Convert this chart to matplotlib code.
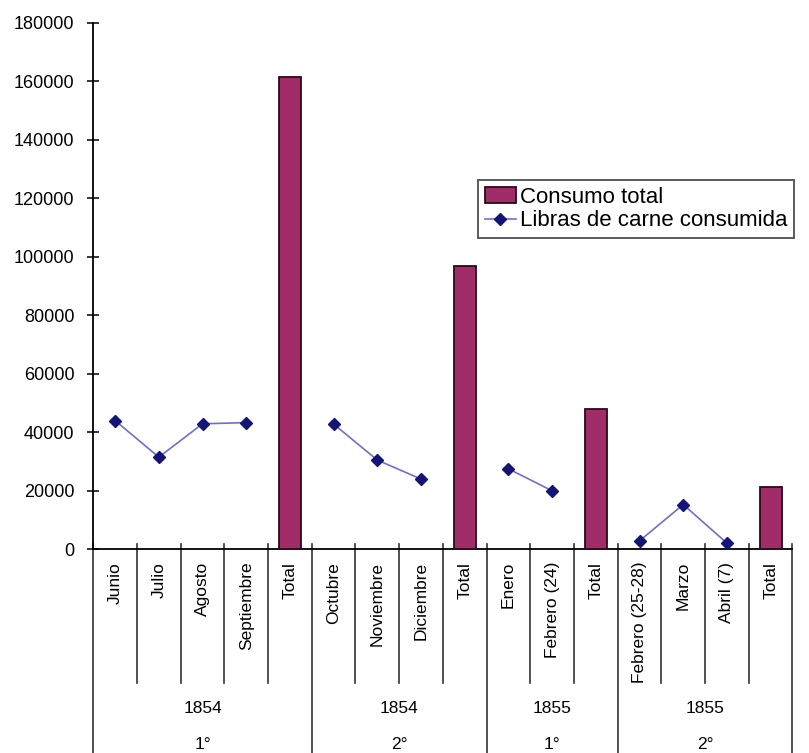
import numpy as np
import matplotlib.pyplot as plt
from matplotlib.transforms import blended_transform_factory

plt.rcParams['font.family'] = ['Liberation Sans', 'DejaVu Sans']

# Categories (months + half-year totals)
categories = ['Junio', 'Julio', 'Agosto', 'Septiembre', 'Total',
              'Octubre', 'Noviembre', 'Diciembre', 'Total',
              'Enero', 'Febrero (24)', 'Total',
              'Febrero (25-28)', 'Marzo', 'Abril (7)', 'Total']

# Pounds of meat per month (None at the total columns)
libras = [44000, 31500, 42900, 43300, None,
          42800, 30500, 24000, None,
          27500, 20000, None,
          2900, 15300, 2100, None]

# Half-year totals
consumo_total = [None, None, None, None, 161500,
                 None, None, None, 96900,
                 None, None, 47800,
                 None, None, None, 21400]

# Outer grouping levels
group_sizes = [5, 4, 3, 4]
years = ['1854', '1854', '1855', '1855']
semestres = ['1°', '2°', '1°', '2°']

x = np.arange(len(categories))
lib = np.array([np.nan if v is None else v for v in libras], dtype=float)
tot = np.array([np.nan if v is None else v for v in consumo_total], dtype=float)

fig = plt.figure(figsize=(8.09, 7.53), dpi=100)
ax = fig.add_axes([0.1153, 0.2705, 0.8643, 0.6994])

bar_mask = ~np.isnan(tot)
bars = ax.bar(x[bar_mask], tot[bar_mask], width=0.5, color='#A02C68',
              edgecolor='#2a0a18', linewidth=1.3, label='Consumo total', zorder=3)
line, = ax.plot(x, lib, color='#6f6fcc', linewidth=1.2, marker='D', markersize=6,
                markerfacecolor='#141478', markeredgecolor='#141478',
                label='Libras de carne consumida', zorder=4)

ax.set_xlim(-0.5, len(categories) - 0.5)
ax.set_ylim(0, 180000)
ax.set_yticks(np.arange(0, 180001, 20000))
ax.tick_params(axis='y', direction='inout', length=9, width=1.1,
               labelsize=13, pad=9)

ax.set_xticks(x)
ax.set_xticklabels(categories, rotation=90, va='top', ha='center')
ax.tick_params(axis='x', length=0, labelsize=12.5, pad=9)

for side in ['top', 'right']:
    ax.spines[side].set_visible(False)
for side in ['left', 'bottom']:
    ax.spines[side].set_linewidth(1.3)

# Category separators below the axis (long ones between groups)
trans = blended_transform_factory(ax.transData, ax.transAxes)
bounds = np.cumsum([0] + group_sizes) - 0.5
for b in np.arange(-0.5, len(categories)):
    if np.any(np.isclose(b, bounds)):
        ax.plot([b, b], [0.011, -0.5], transform=trans, color='#333333',
                lw=1.2, clip_on=False)
    else:
        ax.plot([b, b], [0.011, -0.253], transform=trans, color='#333333',
                lw=1.2, clip_on=False)

for i in range(len(group_sizes)):
    cx = (bounds[i] + bounds[i + 1]) / 2
    ax.text(cx, -0.303, years[i], transform=trans, ha='center', va='center',
            fontsize=12.5)
    ax.text(cx, -0.370, semestres[i], transform=trans, ha='center', va='center',
            fontsize=12.5)

leg = fig.legend(handles=[bars, line],
                 loc='upper left', bbox_to_anchor=(478 / 809, 1 - 180 / 753),
                 fontsize=16, frameon=True, fancybox=False, borderpad=0.3,
                 handlelength=1.4, handletextpad=0.2, labelspacing=0.12,
                 borderaxespad=0)
leg.get_frame().set_edgecolor('#222222')
leg.get_frame().set_linewidth(1.3)

fig.savefig('out.png', dpi=100)
